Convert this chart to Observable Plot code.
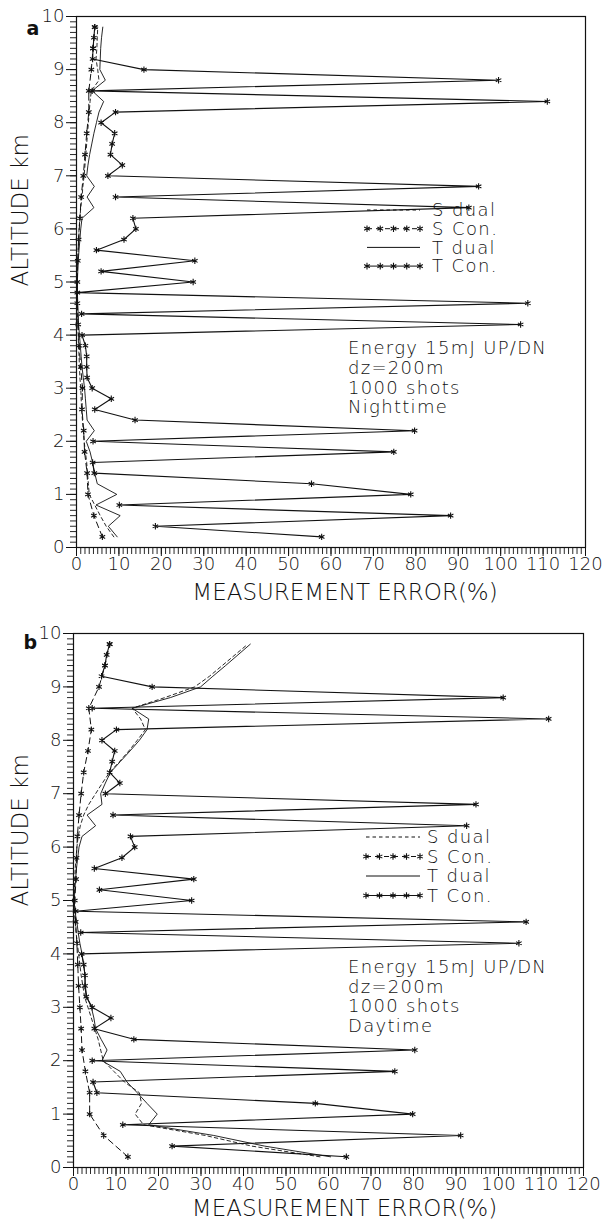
<!DOCTYPE html>
<html><head><meta charset="utf-8">
<script src="https://cdn.jsdelivr.net/npm/d3@7"></script>
<script src="https://cdn.jsdelivr.net/npm/@observablehq/plot@0.6"></script>
<style>
html,body{margin:0;padding:0;background:#fff;}
#wrap{width:602px;height:1224px;position:relative;overflow:hidden;background:#fff;}
#wrap svg{display:block;}
</style></head><body><div id="wrap"></div>
<script>
// ---------- data ----------
const altitudes = [0.2,0.4,0.6,0.8,1.0,1.2,1.4,1.6,1.8,2.0,2.2,2.4,2.6,2.8,3.0,3.2,3.4,3.6,3.8,4.0,4.2,4.4,4.6,4.8,5.0,5.2,5.4,5.6,5.8,6.0,6.2,6.4,6.6,6.8,7.0,7.2,7.4,7.6,7.8,8.0,8.2,8.4,8.6,8.8,9.0,9.2,9.4,9.6,9.8];
const conAltitudes = [0.2,0.6,1.0,1.4,1.8,2.2,2.6,3.0,3.4,3.8,4.2,4.6,5.0,5.4,5.8,6.2,6.6,7.0,7.4,7.8,8.2,8.6,9.0,9.4,9.8];
const xTicks = [0,10,20,30,40,50,60,70,80,90,100,110,120];
const yTicks = [0,1,2,3,4,5,6,7,8,9,10];
const legendLabels = ["S dual","S Con.","T dual","T Con."];
const xTitle = "MEASUREMENT ERROR(%)";
const yTitle = "ALTITUDE km";
const notesNight = ["Energy 15mJ UP/DN","dz=200m","1000 shots","Nighttime"];
const notesDay = ["Energy 15mJ UP/DN","dz=200m","1000 shots","Daytime"];

// panel a (nighttime)
const sDualNight = [8.8,7.0,5.6,4.3,3.0,2.8,2.6,2.4,2.1,1.8, 1.6,1.4,1.2,1.1,1.0,0.8,0.7,0.6,0.5,0.4, 0.3,0.2,0.2,0.1,0.2,0.2,0.3,0.4,0.5,0.6, 0.8,1.0,1.3,1.5,1.8,2.0,2.2,2.4,2.6,2.8, 3.0,3.2,3.5,5.3,5.0,4.6,4.8,4.9,5.0];
const sConNight = [6.1,4.1,2.7,2.5,1.9,1.7,1.3,1.4,1.0,0.6,0.4,0.2,0.2,0.3,0.5,0.8,1.1,1.6,2.0,2.4,2.9,2.9,3.5,3.9,4.3];
const tDualNight = [9.6,7.5,10.3,4.6,9.5,4.9,4.3,3.8,3.2,2.3, 4.2,2.5,2.3,2.1,1.9,1.6,1.3,1.1,0.9,0.7, 0.5,0.4,0.3,0.2,0.2,0.3,0.4,0.6,0.8,1.0, 1.3,4.1,2.5,4.2,2.4,2.7,3.1,3.6,4.1,4.7, 5.3,6.4,3.7,6.8,5.5,5.6,5.7,5.9,6.2];
const tConNight = [57.8,18.6,88.2,10.1,78.8,55.4,4.2,3.8,74.8,3.9, 79.7,13.8,4.3,8.2,3.7,2.5,2.4,2.4,2.1,1.3, 104.7,1.2,106.4,0.2,27.5,5.8,27.9,4.7,11.2,14.0, 13.3,92.5,9.2,94.8,7.4,10.8,8.0,8.4,9.0,5.8, 9.2,111.0,3.7,99.5,15.9,3.8,3.9,4.1,4.3];

// panel b (daytime)
const sDualDay = [58.0,42.0,31.0,16.5,14.5,16.0,15.5,12.0,9.5,7.0, 6.4,5.8,5.0,4.2,3.4,2.6,2.2,1.8,1.5,1.2, 0.9,0.6,0.4,0.2,0.2,0.2,0.3,0.4,0.6,0.8, 1.1,1.6,2.4,3.6,5.2,6.8,8.5,10.8,13.0,15.0, 16.9,15.8,13.8,21.5,28.5,32.0,35.0,38.0,41.0];
const sConDay = [12.8,7.1,3.8,3.8,2.8,2.0,1.8,1.5,1.2,1.0,0.8,0.5,0.3,0.6,0.7,0.9,1.3,1.8,2.4,3.4,4.2,3.6,6.0,7.4,8.5];
const tDualDay = [60.5,45.0,33.0,17.7,19.7,17.3,15.0,12.6,11.0,6.7, 7.9,6.5,5.2,4.8,4.2,3.1,2.8,2.7,2.4,2.0, 1.5,1.1,0.8,0.3,0.2,0.3,0.5,0.7,1.0,1.3, 2.0,5.2,3.2,6.7,6.4,7.5,8.7,11.0,13.3,15.5, 17.3,17.7,13.8,22.8,29.9,32.8,35.8,38.7,41.6];
const tConDay = [64.2,23.2,91.1,11.6,79.8,56.9,5.5,4.6,75.6,4.4, 80.3,14.2,4.9,8.8,4.4,3.0,2.7,2.7,2.4,1.9, 104.8,1.7,106.5,0.5,27.8,6.1,28.3,4.9,11.4,14.4, 13.4,92.5,9.3,94.7,7.5,10.9,8.5,9.1,9.7,6.7, 10.1,111.8,4.4,101.1,18.5,6.6,7.4,7.8,8.5];

// ---------- drawing ----------
const FONT = "'DejaVu Sans', 'Liberation Sans', sans-serif";
const ink = "#111";
const minorX = d3.range(0, 121, 1);
const minorY = d3.range(0, 101, 1).map(d => d / 10);
const rows = (hs, vs) => hs.map((h, i) => ({h, v: vs[i]}));
const intFmt = d => String(Math.round(d));

function panel(o) {
  const sD = rows(altitudes, o.sDual), sC = rows(conAltitudes, o.sCon);
  const tD = rows(altitudes, o.tDual), tC = rows(altitudes, o.tCon);
  const svg = Plot.plot({
    width: 602, height: 612,
    marginTop: o.mt, marginBottom: o.mb, marginLeft: o.ml, marginRight: o.mr,
    x: {domain: [0, 120]},
    y: {domain: [0, 10]},
    style: {fontFamily: FONT, fontWeight: 200, color: ink, background: "white", overflow: "visible"},
    marks: [
      Plot.axisY(minorY, {tickSize: 6, tickFormat: () => "", label: null, stroke: ink, strokeWidth: 0.9}),
      Plot.axisY(yTicks, {tickSize: 10, tickPadding: 2, tickFormat: intFmt, fontSize: 18, label: null, stroke: ink, fill: ink}),
      Plot.axisX(minorX, {tickSize: 7, tickFormat: () => "", label: null, stroke: ink, strokeWidth: 0.9}),
      Plot.axisX(xTicks, {tickSize: 9, tickPadding: 1, tickFormat: intFmt, fontSize: 18, label: null, stroke: ink, fill: ink}),
      Plot.frame({stroke: ink, strokeWidth: 1.2}),
      Plot.line(sD, {x: "v", y: "h", stroke: ink, strokeWidth: 0.9, strokeDasharray: "3.5,3"}),
      Plot.line(sC, {x: "v", y: "h", stroke: ink, strokeWidth: 1, strokeDasharray: "6,4"}),
      Plot.dot(sC, {x: "v", y: "h", symbol: "asterisk", r: 3, stroke: ink, strokeWidth: 1.1}),
      Plot.line(tD, {x: "v", y: "h", stroke: ink, strokeWidth: 0.9}),
      Plot.line(tC, {x: "v", y: "h", stroke: ink, strokeWidth: 1.1}),
      Plot.dot(tC, {x: "v", y: "h", symbol: "asterisk", r: 3, stroke: ink, strokeWidth: 1.1}),
      Plot.text([o.label], {frameAnchor: "top-left", textAnchor: "start", lineAnchor: "middle", dx: o.labDx, dy: o.labDy, fontSize: 19, fontWeight: "bold", fill: ink}),
      Plot.text([yTitle], {frameAnchor: "left", rotate: -90, lineAnchor: "middle", dx: o.ytDx, dy: o.ytDy, fontSize: 23, fill: ink}),
      Plot.text([xTitle], {frameAnchor: "bottom", lineAnchor: "middle", dx: o.xtDx, dy: o.xtDy, fontSize: 23, fill: ink})
    ]
  });
  const g = d3.select(svg).append("g")
    .attr("font-family", FONT).attr("font-weight", 200).attr("fill", ink)
    .attr("text-anchor", "start");
  // legend
  const styles = [
    {dash: "3.5,3", stars: false},
    {dash: "5,4", stars: true},
    {dash: null, stars: false},
    {dash: null, stars: true}
  ];
  const star = d3.symbol(d3.symbolAsterisk, 30)();
  legendLabels.forEach((lab, i) => {
    const y = o.legY[i], s = styles[i];
    const line = g.append("line").attr("x1", o.legX0).attr("x2", o.legX1).attr("y1", y).attr("y2", y)
      .attr("stroke", ink).attr("stroke-width", 1);
    if (s.dash) line.attr("stroke-dasharray", s.dash);
    if (s.stars) {
      d3.range(5).forEach(k => {
        const x = o.legX0 + (o.legX1 - o.legX0) * k / 4;
        g.append("path").attr("d", star).attr("transform", `translate(${x},${y})`)
          .attr("stroke", ink).attr("stroke-width", 1.1).attr("fill", "none");
      });
    }
    g.append("text").attr("x", o.legTx).attr("y", y).attr("dy", "0.35em")
      .attr("text-anchor", "start")
      .attr("font-size", 18).attr("letter-spacing", 1.4).text(lab);
  });
  // notes
  o.notes.forEach((t, i) => {
    g.append("text").attr("x", o.noteX).attr("y", o.noteY[i]).attr("dy", "0.35em")
      .attr("text-anchor", "start")
      .attr("font-size", 18).attr("letter-spacing", 1.3).text(t);
  });
  return svg;
}

const wrap = document.getElementById("wrap");
wrap.appendChild(panel({
  label: "a", sDual: sDualNight, sCon: sConNight, tDual: tDualNight, tCon: tConNight,
  mt: 16, mb: 65, ml: 76, mr: 17,
  labDx: -50, labDy: 12, ytDx: -56, ytDy: 4.5, xtDx: 14, xtDy: 45,
  legX0: 367, legX1: 420, legTx: 432, legY: [210, 228.7, 247.4, 266.1],
  notes: notesNight, noteX: 348, noteY: [348, 368, 387.5, 407]
}));
wrap.appendChild(panel({
  label: "b", sDual: sDualDay, sCon: sConDay, tDual: tDualDay, tCon: tConDay,
  mt: 21, mb: 57, ml: 73, mr: 19,
  labDx: -50, labDy: 9, ytDx: -53, ytDy: 6, xtDx: 16, xtDy: 41,
  legX0: 366, legX1: 420, legTx: 427, legY: [225, 244.5, 264, 283.5],
  notes: notesDay, noteX: 348, noteY: [355, 374.5, 394, 414]
}));
</script>
</body></html>
